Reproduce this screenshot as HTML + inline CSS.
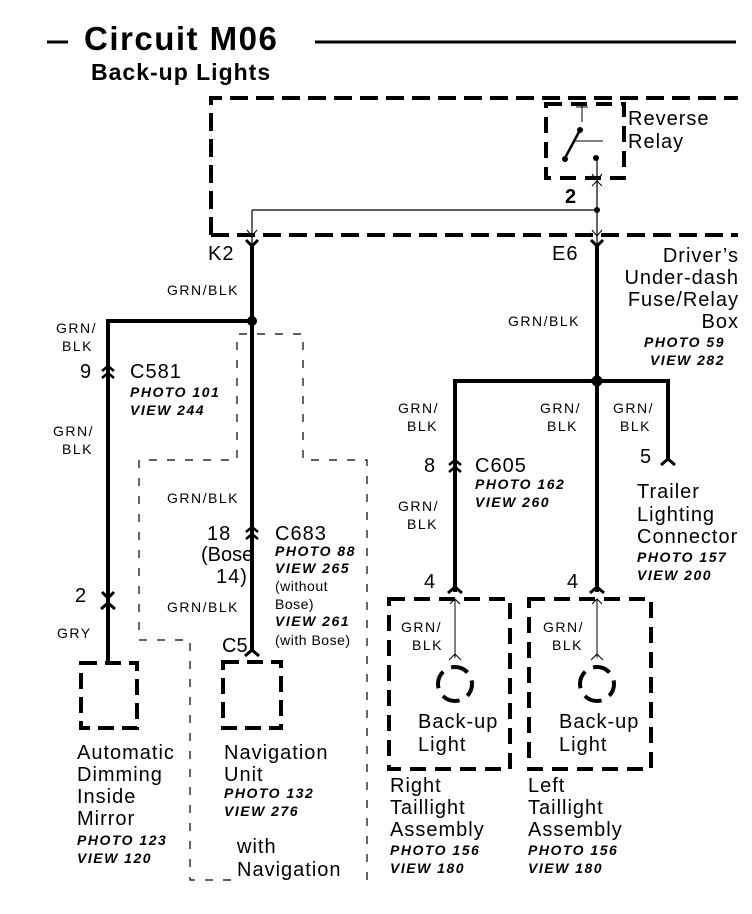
<!DOCTYPE html>
<html><head><meta charset="utf-8"><style>
html,body{margin:0;padding:0;background:#fff}
svg{display:block}
text{font-family:"Liberation Sans",Arial,sans-serif;fill:#000}
.b{font-size:20px;letter-spacing:1px}
.i{font-size:14px;font-style:italic;font-weight:bold;letter-spacing:1.5px}
.s{font-size:14px;letter-spacing:1.5px}
</style></head><body>
<svg width="752" height="914" viewBox="0 0 752 914" xmlns="http://www.w3.org/2000/svg">
<defs>
<g id="inl"><path d="M-6,-1 L0,-6 L6,-1" fill="none" stroke="#000" stroke-width="2.5"/><path d="M-6,6 L0,1 L6,6" fill="none" stroke="#000" stroke-width="2.5"/></g>
<g id="ydown"><path d="M-6,-6 L0,0 L6,-6" fill="none" stroke="#000" stroke-width="3"/></g>
<g id="capup"><path d="M-7,6 L0,0 L7,6" fill="none" stroke="#000" stroke-width="3"/></g>
</defs>
<line x1="47" y1="42" x2="68" y2="42" stroke="#000" stroke-width="3"/>
<text x="84" y="50" style="font-size:33px;font-weight:bold;letter-spacing:1.5px">Circuit M06</text>
<line x1="315" y1="42" x2="736" y2="42" stroke="#000" stroke-width="3"/>
<text x="91" y="80" style="font-size:23px;font-weight:bold;letter-spacing:1px">Back-up Lights</text>
<path d="M211,235 L211,98 L738,98" fill="none" stroke="#000" stroke-width="4" stroke-dasharray="18,8"/>
<path d="M211,235 L738,235" fill="none" stroke="#000" stroke-width="4" stroke-dasharray="18,8"/>
<rect x="546" y="104" width="78" height="74" fill="none" stroke="#000" stroke-width="4" stroke-dasharray="16,9"/>
<line x1="582" y1="106" x2="582" y2="122" stroke="#000"/><line x1="576" y1="107" x2="588" y2="107" stroke="#000"/>
<line x1="580" y1="130" x2="565" y2="158" stroke="#000" stroke-width="2.5"/>
<circle cx="580" cy="130" r="3"/><circle cx="565" cy="159" r="3"/>
<line x1="573" y1="141" x2="603" y2="141" stroke="#000"/>
<circle cx="596" cy="158" r="3"/>
<text x="628" y="125" class="b">Reverse</text><text x="628" y="148" class="b">Relay</text>
<text x="565" y="203" class="b" style="font-weight:bold">2</text>
<line x1="597" y1="158" x2="597" y2="245" stroke="#000" stroke-width="1.2"/>
<path d="M592,174 L597,180 L602,174 M592,186 L597,181 L602,186 M592,230 L597,236 L602,230" fill="none" stroke="#000"/>
<line x1="252" y1="210" x2="597" y2="210" stroke="#000" stroke-width="1.2"/>
<circle cx="597" cy="210" r="3"/>
<line x1="252" y1="210" x2="252" y2="245" stroke="#000" stroke-width="1.2"/>
<path d="M247,230 L252,236 L257,230" fill="none" stroke="#000"/>
<text x="208" y="260" class="b">K2</text>
<text x="552" y="260" class="b">E6</text>
<use href="#ydown" x="252" y="246"/><use href="#ydown" x="597" y="246"/>
<line x1="252" y1="246" x2="252" y2="652" stroke="#000" stroke-width="4"/>
<circle cx="252" cy="321" r="5"/>
<line x1="108" y1="321" x2="252" y2="321" stroke="#000" stroke-width="4"/>
<line x1="108" y1="319" x2="108" y2="662" stroke="#000" stroke-width="4"/>
<text x="167" y="295" class="s">GRN/BLK</text>
<text x="56" y="333" class="s">GRN/</text><text x="62" y="351" class="s">BLK</text>
<use href="#inl" x="108" y="372"/>
<text x="80" y="378" class="b">9</text><text x="130" y="378" class="b">C581</text>
<text x="130" y="397" class="i">PHOTO 101</text><text x="130" y="415" class="i">VIEW 244</text>
<text x="53" y="436" class="s">GRN/</text><text x="62" y="454" class="s">BLK</text>
<use href="#ydown" x="108" y="598"/><use href="#capup" x="108" y="603"/>
<text x="75" y="602" class="b">2</text>
<text x="57" y="638" class="s">GRY</text>
<rect x="81" y="663" width="56" height="65" fill="none" stroke="#000" stroke-width="4" stroke-dasharray="16,8"/>
<text x="77" y="759" class="b">Automatic</text><text x="77" y="781" class="b">Dimming</text>
<text x="77" y="803" class="b">Inside</text><text x="77" y="825" class="b">Mirror</text>
<text x="77" y="845" class="i">PHOTO 123</text><text x="77" y="863" class="i">VIEW 120</text>
<path d="M237,458 L237,334 L303,334 L303,460 L367,460 L367,880 L190,880 L190,640 L139,640 L139,460 L237,460" fill="none" stroke="#000" stroke-width="1.2" stroke-dasharray="8,10"/>
<rect x="236" y="862" width="124" height="20" fill="#fff"/>
<text x="167" y="503" class="s">GRN/BLK</text>
<use href="#inl" x="252" y="533"/>
<text x="207" y="540" class="b">18</text><text x="201" y="561" class="b" style="letter-spacing:0">(Bose</text><text x="216" y="583" class="b">14)</text>
<text x="167" y="612" class="s">GRN/BLK</text>
<text x="275" y="540" class="b">C683</text>
<text x="275" y="556" class="i">PHOTO 88</text><text x="275" y="573" class="i">VIEW 265</text>
<text x="275" y="591" class="s" style="letter-spacing:0.5px">(without</text><text x="275" y="609" class="s" style="letter-spacing:0.5px">Bose)</text>
<text x="275" y="626" class="i">VIEW 261</text><text x="275" y="645" class="s" style="letter-spacing:0.5px">(with Bose)</text>
<text x="222" y="652" class="b" style="letter-spacing:0">C5</text>
<use href="#capup" x="252" y="650"/>
<rect x="223" y="662" width="58" height="66" fill="none" stroke="#000" stroke-width="4" stroke-dasharray="16,8"/>
<text x="224" y="759" class="b">Navigation</text><text x="224" y="781" class="b">Unit</text>
<text x="224" y="798" class="i">PHOTO 132</text><text x="224" y="816" class="i">VIEW 276</text>
<text x="237" y="853" class="b">with</text><text x="237" y="876" class="b">Navigation</text>
<g class="b" text-anchor="end"><text x="739" y="262">Driver’s</text><text x="739" y="284">Under-dash</text>
<text x="739" y="306">Fuse/Relay</text><text x="739" y="328">Box</text></g>
<text x="725" y="347" class="i" text-anchor="end">PHOTO 59</text><text x="725" y="365" class="i" text-anchor="end">VIEW 282</text>
<line x1="597" y1="246" x2="597" y2="592" stroke="#000" stroke-width="4"/>
<text x="508" y="326" class="s">GRN/BLK</text>
<line x1="455" y1="381" x2="668" y2="381" stroke="#000" stroke-width="4"/>
<circle cx="597" cy="381" r="5.5"/>
<line x1="455" y1="379" x2="455" y2="592" stroke="#000" stroke-width="4"/>
<line x1="668" y1="379" x2="668" y2="460" stroke="#000" stroke-width="4"/>
<use href="#capup" x="668" y="459"/>
<text x="398" y="413" class="s">GRN/</text><text x="407" y="431" class="s">BLK</text>
<text x="540" y="413" class="s">GRN/</text><text x="547" y="431" class="s">BLK</text>
<text x="613" y="413" class="s">GRN/</text><text x="620" y="431" class="s">BLK</text>
<text x="640" y="463" class="b">5</text>
<text x="637" y="498" class="b">Trailer</text><text x="637" y="521" class="b">Lighting</text><text x="637" y="543" class="b">Connector</text>
<text x="637" y="562" class="i">PHOTO 157</text><text x="637" y="580" class="i">VIEW 200</text>
<use href="#inl" x="455" y="466"/>
<text x="424" y="472" class="b">8</text><text x="475" y="472" class="b">C605</text>
<text x="475" y="489" class="i">PHOTO 162</text><text x="475" y="507" class="i">VIEW 260</text>
<text x="398" y="511" class="s">GRN/</text><text x="407" y="529" class="s">BLK</text>
<text x="424" y="588" class="b">4</text><text x="567" y="588" class="b">4</text>
<use href="#capup" x="455" y="587"/><use href="#capup" x="597" y="587"/>
<rect x="389" y="599" width="121" height="170" fill="none" stroke="#000" stroke-width="4" stroke-dasharray="16,9"/>
<rect x="529" y="599" width="122" height="170" fill="none" stroke="#000" stroke-width="4" stroke-dasharray="16,9"/>
<g stroke="#000" fill="none">
<line x1="455" y1="600" x2="455" y2="658" stroke-width="1"/><path d="M450,604 L455,599 L460,604 M449,660 L455,654 L461,660"/>
<line x1="597" y1="600" x2="597" y2="658" stroke-width="1"/><path d="M592,604 L597,599 L602,604 M591,660 L597,654 L603,660"/>
<circle cx="455" cy="684" r="17" stroke-width="4" stroke-dasharray="18,9" stroke-dashoffset="5"/>
<circle cx="597" cy="684" r="17" stroke-width="4" stroke-dasharray="18,9" stroke-dashoffset="5"/>
</g>
<text x="401" y="632" class="s">GRN/</text><text x="412" y="650" class="s">BLK</text>
<text x="543" y="632" class="s">GRN/</text><text x="552" y="650" class="s">BLK</text>
<text x="418" y="728" class="b">Back-up</text><text x="418" y="751" class="b">Light</text>
<text x="559" y="728" class="b">Back-up</text><text x="559" y="751" class="b">Light</text>
<text x="390" y="792" class="b">Right</text><text x="390" y="814" class="b">Taillight</text><text x="390" y="836" class="b">Assembly</text>
<text x="390" y="855" class="i">PHOTO 156</text><text x="390" y="873" class="i">VIEW 180</text>
<text x="528" y="792" class="b">Left</text><text x="528" y="814" class="b">Taillight</text><text x="528" y="836" class="b">Assembly</text>
<text x="528" y="855" class="i">PHOTO 156</text><text x="528" y="873" class="i">VIEW 180</text>
</svg>
</body></html>
